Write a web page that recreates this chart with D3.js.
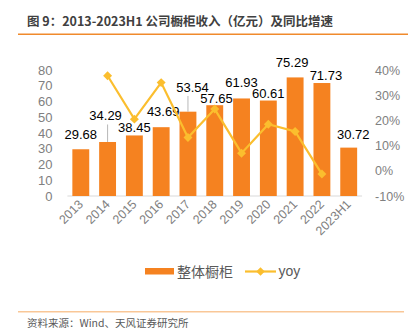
<!DOCTYPE html>
<html><head><meta charset="utf-8">
<script src="https://cdn.jsdelivr.net/npm/d3@7"></script>
<style>
html,body{margin:0;padding:0;background:#fff;}
svg{display:block;}
</style>
</head><body>
<svg id="c" width="408" height="329"></svg>
<script>
const categories = ["2013","2014","2015","2016","2017","2018","2019","2020","2021","2022","2023H1"];
const revenue = [29.68,34.29,38.45,43.69,53.54,57.65,61.93,60.61,75.29,71.73,30.72];
const yoy = [null,37.7,20.5,35.0,13.2,24.5,7.0,18.5,15.6,-1.3,null];
const leftTicks = [0,10,20,30,40,50,60,70,80];
const rightTicks = [-10,0,10,20,30,40];
// label layout (gap above bar top, horizontal nudge, leader line)
const labelGap = [10,21.5,3.7,11,19.7,2.5,11.5,2.5,10,3,9];
const labelNudge = [0,-2,0,2,4.5,1.7,0,0,-3,4,4.5];
const labelLeader = [false,true,false,false,true,false,false,false,false,false,false];

const svg = d3.select("#c");
const m = {left:67.4, right:362.1, top:70, bottom:196};
const CN = "'Noto Sans CJK SC','Noto Sans',sans-serif";
const LAT = "'Liberation Sans',Arial,sans-serif";

// title
svg.append("text").attr("x",27).attr("y",26).text("图 9：2013-2023H1 公司橱柜收入（亿元）及同比增速")
  .attr("font-family",CN).attr("font-size",12.5).attr("font-weight","bold").attr("fill","#404040");
svg.append("line").attr("x1",18).attr("x2",408).attr("y1",34.3).attr("y2",34.3)
  .attr("stroke","#F08A2C").attr("stroke-width",1.5);

const x = d3.scaleBand().domain(categories).range([m.left,m.right]).paddingInner(0.37).paddingOuter(0.185);
const yL = d3.scaleLinear().domain([0,80]).range([m.bottom,m.top]);
const yR = d3.scaleLinear().domain([-10,40]).range([m.bottom,m.top]);

// left axis
const axL = svg.append("g").attr("transform",`translate(${m.left-15},0)`)
  .call(d3.axisLeft(yL).tickValues(leftTicks).tickSize(0).tickPadding(0));
axL.select(".domain").remove();
axL.selectAll("text").attr("font-family",LAT).attr("font-size",13).attr("fill","#808080");

// right axis
const axR = svg.append("g").attr("transform",`translate(${m.right+13},0)`)
  .call(d3.axisRight(yR).tickValues(rightTicks).tickSize(0).tickPadding(0).tickFormat(d=>d+"%"));
axR.select(".domain").remove();
axR.selectAll("text").attr("font-family",LAT).attr("font-size",12.5).attr("fill","#808080");

// baseline
svg.append("line").attr("x1",m.left).attr("x2",m.right).attr("y1",yL(0)).attr("y2",yL(0))
  .attr("stroke","#d9d9d9").attr("stroke-width",1);

// bars
svg.append("g").selectAll("rect").data(revenue).join("rect")
  .attr("x",(d,i)=>x(categories[i])).attr("width",x.bandwidth())
  .attr("y",d=>yL(d)).attr("height",d=>yL(0)-yL(d)).attr("fill","#F58220");

// leader lines
svg.append("g").selectAll("line").data(revenue.map((d,i)=>({d,i})).filter(o=>labelLeader[o.i])).join("line")
  .attr("x1",o=>x(categories[o.i])+x.bandwidth()/2).attr("x2",o=>x(categories[o.i])+x.bandwidth()/2)
  .attr("y1",o=>yL(o.d)).attr("y2",o=>yL(o.d)-labelGap[o.i]+4)
  .attr("stroke","#a6a6a6").attr("stroke-width",0.8);

// bar labels
svg.append("g").selectAll("text").data(revenue).join("text")
  .attr("x",(d,i)=>x(categories[i])+x.bandwidth()/2+labelNudge[i])
  .attr("y",(d,i)=>yL(d)-labelGap[i])
  .attr("text-anchor","middle").attr("font-family",LAT).attr("font-size",13).attr("fill","#000")
  .text(d=>d.toFixed(2));

// yoy line
const pts = yoy.map((v,i)=>({v,i})).filter(o=>o.v!==null);
const line = d3.line().x(o=>x(categories[o.i])+x.bandwidth()/2).y(o=>yR(o.v));
svg.append("path").datum(pts).attr("d",line).attr("fill","none").attr("stroke","#FBBE2E").attr("stroke-width",2.2);
svg.append("g").selectAll("path").data(pts).join("path")
  .attr("transform",o=>`translate(${x(categories[o.i])+x.bandwidth()/2},${yR(o.v)}) rotate(45)`)
  .attr("d",d3.symbol().type(d3.symbolSquare).size(40)).attr("fill","#FBBE2E");

// x labels
svg.append("g").selectAll("text").data(categories).join("text")
  .attr("transform",d=>`translate(${x(d)+x.bandwidth()/2+3},${205}) rotate(-45)`)
  .attr("text-anchor","end").attr("font-family",LAT).attr("font-size",12.5).attr("fill","#808080")
  .text(d=>d);

// legend
svg.append("rect").attr("x",145).attr("y",268).attr("width",29).attr("height",6.5).attr("fill","#F58220");
svg.append("text").attr("x",177).attr("y",277).text("整体橱柜").attr("font-family",CN).attr("font-size",14).attr("fill","#595959");
svg.append("line").attr("x1",245).attr("x2",276).attr("y1",271.5).attr("y2",271.5).attr("stroke","#FBBE2E").attr("stroke-width",2.2);
svg.append("path").attr("transform","translate(260.5,271.5) rotate(45)").attr("d",d3.symbol().type(d3.symbolSquare).size(36)).attr("fill","#FBBE2E");
svg.append("text").attr("x",278.5).attr("y",276).text("yoy").attr("font-family",LAT).attr("font-size",14).attr("fill","#595959");

// footer
svg.append("line").attr("x1",18).attr("x2",404).attr("y1",311.7).attr("y2",311.7)
  .attr("stroke","#F9C797").attr("stroke-width",1.5);
svg.append("text").attr("x",27).attr("y",326.5).text("资料来源：Wind、天风证券研究所")
  .attr("font-family",CN).attr("font-size",10.5).attr("fill","#595959");
</script>
</body></html>
